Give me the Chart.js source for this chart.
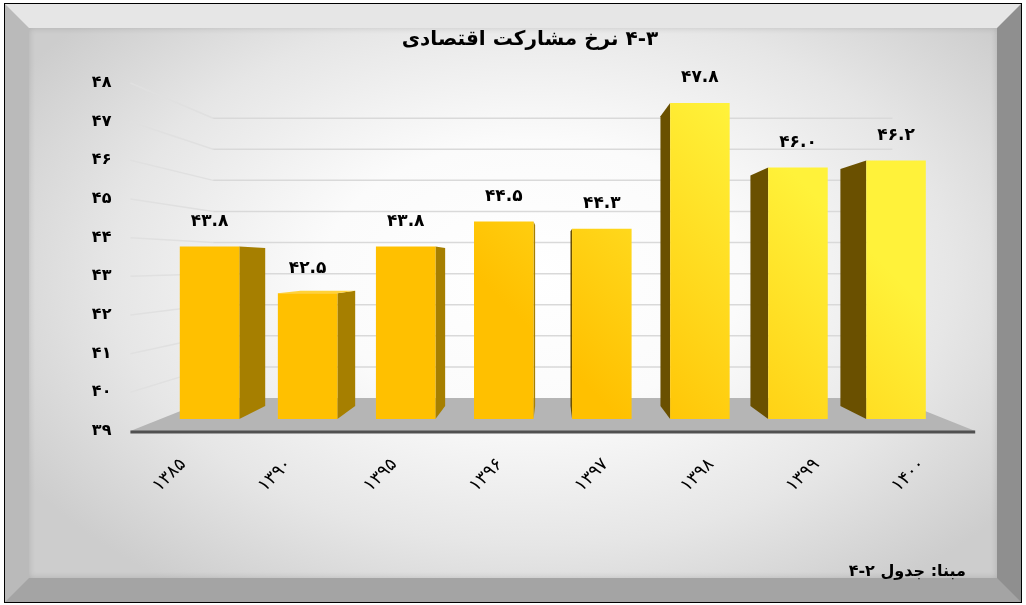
<!DOCTYPE html>
<html lang="fa">
<head>
<meta charset="utf-8">
<script src="https://cdn.jsdelivr.net/npm/chart.js@4.4.0/dist/chart.umd.min.js"></script>
<style>
  html, body { margin: 0; padding: 0; width: 1026px; height: 605px; overflow: hidden; background: #ffffff; }
  #frame {
    position: absolute; left: 5px; top: 4px; width: 1016px; height: 598px; box-sizing: border-box;
    border-style: solid; border-width: 24px;
    border-color: #e6e6e6 #8f8f8f #a4a4a4 #bababa;
    outline: 1px solid #000;
    background: radial-gradient(ellipse 62% 70% at 52% 45%, #ffffff 0%, #fbfbfb 35%, #e6e6e6 70%, #cdcdcd 100%);
    box-shadow: inset 0 0 6px rgba(0,0,0,0.15);
  }
  #chart { position: absolute; left: 0; top: 0; }
</style>
</head>
<body>
<div id="frame"></div>
<canvas id="chart" width="1026" height="605" dir="rtl"></canvas>
<script>
// ---- data ----
const categories = ['۱۳۸۵', '۱۳۹۰', '۱۳۹۵', '۱۳۹۶', '۱۳۹۷', '۱۳۹۸', '۱۳۹۹', '۱۴۰۰'];
const rates = [43.8, 42.5, 43.8, 44.5, 44.3, 47.8, 46.0, 46.2];
const valueLabels = ['۴۳.۸', '۴۲.۵', '۴۳.۸', '۴۴.۵', '۴۴.۳', '۴۷.۸', '۴۶.۰', '۴۶.۲'];
const yTickLabels = ['۳۹', '۴۰', '۴۱', '۴۲', '۴۳', '۴۴', '۴۵', '۴۶', '۴۷', '۴۸'];
const titleText = '۴-۳ نرخ مشارکت اقتصادی';
const sourceText = 'مبنا: جدول ۲-۴';
const Y_MIN = 39, Y_MAX = 48;

// ---- perspective (style) ----
const FONT = "'DejaVu Sans', sans-serif";
const T_FRONT = 0.0713, T_BACK = 0.148, T_WALL = 0.196, VP_Y_FRAC = 0.516;
const n = categories.length;
const xRange = n / (1 - T_FRONT);
const xMin = -(0.5 + (n / 2) * T_FRONT / (1 - T_FRONT));
const xMax = xMin + xRange;
const yRange = (Y_MAX - Y_MIN) / (1 - T_FRONT);
const yMin = Y_MIN - yRange * (1 - VP_Y_FRAC) * T_FRONT;
const yMax = yMin + yRange;

function vanishing(chart) {
  const a = chart.chartArea;
  return { x: (a.left + a.right) / 2, y: a.top + VP_Y_FRAC * (a.bottom - a.top) };
}
function proj(V, x, y, t) { return { x: x + t * (V.x - x), y: y + t * (V.y - y) }; }

const depthPlugin = {
  id: 'depth3d',
  beforeDatasetsDraw(chart) {
    const ctx = chart.ctx, a = chart.chartArea, yl = chart.scales.yl;
    const V = vanishing(chart);
    ctx.save();
    // floor
    const yb = yl.getPixelForValue(Y_MIN);
    const bl = proj(V, a.left, yb, T_WALL), br = proj(V, a.right, yb, T_WALL);
    ctx.fillStyle = '#b5b5b5';
    ctx.beginPath();
    ctx.moveTo(a.left, yb); ctx.lineTo(a.right, yb); ctx.lineTo(br.x, br.y); ctx.lineTo(bl.x, bl.y);
    ctx.closePath(); ctx.fill();
    // gridlines on side and back walls
    ctx.lineWidth = 1.5;
    for (let v = Y_MIN + 1; v <= Y_MAX; v++) {
      const yf = yl.getPixelForValue(v);
      const p1 = proj(V, a.left, yf, T_WALL), p2 = proj(V, a.right, yf, T_WALL);
      ctx.strokeStyle = '#e0e0e0';
      ctx.beginPath(); ctx.moveTo(a.left, yf); ctx.lineTo(p1.x, p1.y); ctx.stroke();
      ctx.strokeStyle = '#d9d9d9';
      ctx.beginPath(); ctx.moveTo(p1.x, p1.y); ctx.lineTo(p2.x, p2.y); ctx.stroke();
    }
    // floor front edge
    ctx.strokeStyle = '#505050'; ctx.lineWidth = 3;
    ctx.beginPath(); ctx.moveTo(a.left, yb + 1); ctx.lineTo(a.right, yb + 1); ctx.stroke();
    // bar side/top faces
    const s = (1 - T_BACK) / (1 - T_FRONT);
    const back = (px, py) => ({ x: V.x + (px - V.x) * s, y: V.y + (py - V.y) * s });
    const meta = chart.getDatasetMeta(0);
    meta.data.forEach((el) => {
      const { x, y, base, width } = el.getProps(['x', 'y', 'base', 'width'], true);
      const left = x < V.x;
      const xe = left ? x + width / 2 : x - width / 2;
      const t0 = back(xe, y), b0 = back(xe, base);
      ctx.fillStyle = left ? '#a67f00' : '#6a5000';
      ctx.beginPath();
      ctx.moveTo(xe, y); ctx.lineTo(t0.x, t0.y); ctx.lineTo(b0.x, b0.y); ctx.lineTo(xe, base);
      ctx.closePath(); ctx.fill();
      if (y > V.y) {
        const l0 = back(x - width / 2, y), r0 = back(x + width / 2, y);
        ctx.fillStyle = '#ffd23a';
        ctx.beginPath();
        ctx.moveTo(x - width / 2, y); ctx.lineTo(x + width / 2, y); ctx.lineTo(r0.x, r0.y); ctx.lineTo(l0.x, l0.y);
        ctx.closePath(); ctx.fill();
      }
    });
    ctx.restore();
  },
  afterDatasetsDraw(chart) {
    const ctx = chart.ctx;
    ctx.save();
    ctx.font = 'bold 17px ' + FONT;
    ctx.fillStyle = '#000';
    ctx.textAlign = 'center';
    ctx.textBaseline = 'middle';
    chart.getDatasetMeta(0).data.forEach((el, i) => {
      ctx.fillText(valueLabels[i], el.x, el.y - 25);
    });
    ctx.restore();
  },
  afterDraw(chart) {
    const ctx = chart.ctx;
    ctx.save();
    ctx.direction = 'rtl';
    ctx.font = 'bold 16px ' + FONT;
    ctx.fillStyle = '#000';
    ctx.textAlign = 'right';
    ctx.textBaseline = 'middle';
    ctx.fillText(sourceText, 966, 572);
    ctx.restore();
  }
};

function barFill(context) {
  const chart = context.chart, a = chart.chartArea;
  if (!a) return '#ffc000';
  const W = a.right - a.left, H = a.bottom - a.top;
  const g = chart.ctx.createLinearGradient(a.left + 0.45 * W, a.bottom - 0.35 * H, a.left + 0.7 * W, a.top + 0.05 * H);
  g.addColorStop(0, '#ffc000');
  g.addColorStop(1, '#fff23a');
  return g;
}

new Chart(document.getElementById('chart'), {
  type: 'bar',
  data: {
    datasets: [{
      data: rates.map((v, i) => ({ x: i, y: v })),
      base: Y_MIN,
      backgroundColor: barFill,
      borderWidth: 0,
      barPercentage: 0.607,
      categoryPercentage: 1,
      xAxisID: 'x',
      yAxisID: 'y'
    }]
  },
  options: {
    responsive: false,
    animation: false,
    devicePixelRatio: 1,
    layout: { padding: { left: 84.8, right: 50.8, top: 28, bottom: 74 } },
    plugins: {
      legend: { display: false },
      tooltip: { enabled: false },
      title: {
        display: true, text: titleText, color: '#000',
        font: { family: FONT, size: 20, weight: 'bold' },
        padding: { top: 0, bottom: 31 }
      }
    },
    scales: {
      x: { type: 'linear', display: false, offset: false, grid: { offset: false }, min: xMin, max: xMax },
      y: { type: 'linear', display: false, min: yMin, max: yMax },
      xl: {
        type: 'category', position: 'bottom', labels: categories, offset: true,
        grid: { display: false, drawTicks: false }, border: { display: false },
        ticks: { autoSkip: false, minRotation: 45, maxRotation: 45, padding: 23, color: '#000',
                 font: { family: FONT, size: 18 } },
        afterFit(s) { s.height = 100; }
      },
      yl: {
        type: 'linear', position: 'left', min: Y_MIN, max: Y_MAX,
        grid: { display: false, drawTicks: false }, border: { display: false },
        ticks: { stepSize: 1, padding: 19, color: '#000', font: { family: FONT, size: 16, weight: 'bold' },
                 callback: (v) => yTickLabels[v - Y_MIN] },
        afterFit(s) { s.width = 45.6; }
      }
    }
  },
  plugins: [depthPlugin]
});
</script>
</body>
</html>
